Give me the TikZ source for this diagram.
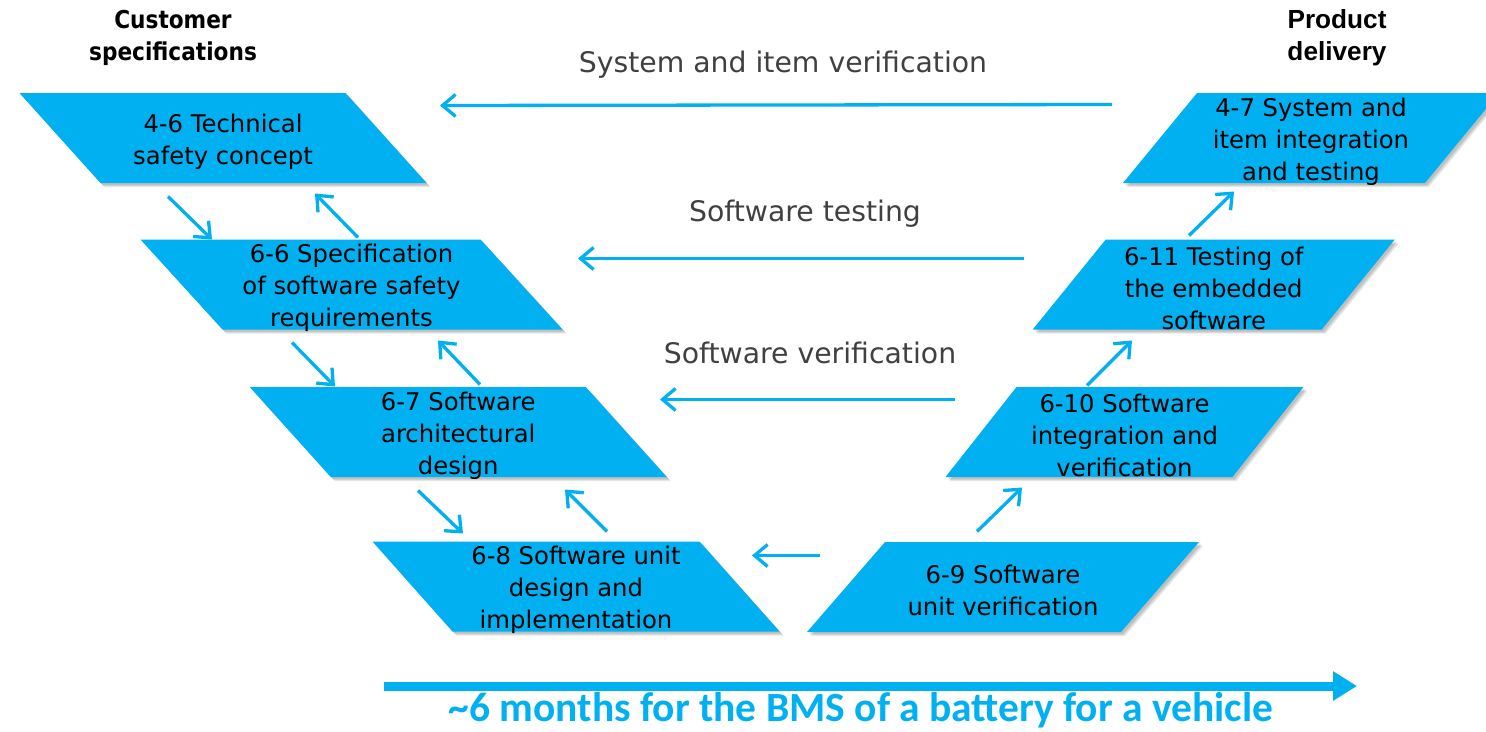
\documentclass[tikz,border=0pt]{standalone}
\usepackage{fontspec}
\setmainfont{DejaVu Sans}
\newfontfamily\headfont[FakeStretch=0.88]{DejaVu Sans}
\newfontfamily\arialfont{Liberation Sans}
\newfontfamily\calfont{Carlito}
\usetikzlibrary{arrows.meta,calc}
\definecolor{vblue}{HTML}{00B0F0}
\definecolor{lblgray}{HTML}{404040}
\tikzset{
  boxtext/.style={align=center, inner sep=0pt, minimum height=90pt, text=black,
    yshift=-3.5pt, font=\fontsize{24.3}{32}\selectfont},
  arr/.style={draw=vblue, line width=3.3pt, -{Straight Barb[length=13pt,width=22pt]}},
  bigarr/.style={draw=vblue, line width=9pt, -{Triangle[length=24pt,width=28pt]}},
  lbl/.style={text=lblgray, inner sep=0pt, font=\fontsize{28.3}{34}\selectfont},
  head/.style={align=center, inner sep=0pt, text=black},
  shadowfill/.style={fill=black, opacity=0.09},
  boxfill/.style={fill=vblue}
}
% name, cx, cy, width, slant, text
\newcommand{\pbox}[6]{%
  \foreach \d in {2,3,4}{%
  \fill[shadowfill] ({#2-#4/2-#5/2+\d},{#3-45+\d}) -- ({#2+#4/2-#5/2+\d},{#3-45+\d})
     -- ({#2+#4/2+#5/2+\d},{#3+45+\d}) -- ({#2-#4/2+#5/2+\d},{#3+45+\d}) -- cycle;}
  \fill[boxfill] ({#2-#4/2-#5/2},{#3-45}) -- ({#2+#4/2-#5/2},{#3-45})
     -- ({#2+#4/2+#5/2},{#3+45}) -- ({#2-#4/2+#5/2},{#3+45}) -- cycle;
  \node[boxtext] (#1) at (#2,#3) {#6};
}
\begin{document}
\begin{tikzpicture}[x=1pt,y=-1pt]
\clip (0,0) rectangle (1486,731);
\fill[white] (0,0) rectangle (1486,731);

% headers
\node[head, font=\headfont\bfseries\fontsize{24.6}{32}\selectfont] (cust) at (173,38) {Customer\\specifications};
\node[head, font=\arialfont\bfseries\fontsize{26.2}{32}\selectfont] (prod) at (1337,38) {Product\\delivery};

% boxes
\pbox{b46}{223}{138}{326}{81}{4-6 Technical\\safety concept}
\pbox{b66}{351.5}{284.5}{340}{82}{6-6 Specification\\of software safety\\requirements}
\pbox{b67}{458.25}{432}{336}{81}{6-7 Software\\architectural\\design}
\pbox{b68}{576}{586.5}{327}{80}{6-8 Software unit\\design and\\implementation}
\pbox{b69}{1003}{587}{314}{-78}{6-9 Software\\unit verification}
\pbox{b610}{1124.5}{432}{287}{-71}{6-10 Software\\integration and\\verification}
\pbox{b611}{1213.75}{284.5}{289}{-73}{6-11 Testing of\\the embedded\\software}
\pbox{b47}{1311}{138}{302}{-74}{4-7 System and\\item integration\\and testing}

% labels
\node[lbl] (l1) at (783,65) {System and item verification};
\node[lbl] (l2) at (805,214) {Software testing};
\node[lbl] (l3) at (810,353) {Software verification};

% horizontal arrows
\draw[arr] ($(b47)+(-199,-37)$) -- ($(b46)+(217,-36)$);
\draw[arr] ($(b611)+(-189.75,-29.5)$) -- ($(b66)+(226.5,-29.5)$);
\draw[arr] ($(b610)+(-169.5,-36)$) -- ($(b67)+(201.75,-36)$);
\draw[arr] ($(b69)+(-183,-35)$) -- ($(b68)+(176,-34.5)$);

% diagonal arrows, left side
\draw[arr] ($(b46)+(-55,55)$) -- ($(b66)+(-139.5,-48.5)$);
\draw[arr] ($(b66)+(6.5,-50.5)$) -- ($(b46)+(92,52)$);
\draw[arr] ($(b66)+(-59.5,54.5)$) -- ($(b67)+(-123.25,-49)$);
\draw[arr] ($(b67)+(21.75,-51)$) -- ($(b66)+(86.5,52.5)$);
\draw[arr] ($(b67)+(-40.25,55)$) -- ($(b68)+(-113,-56.5)$);
\draw[arr] ($(b68)+(31,-58.5)$) -- ($(b67)+(106.75,54)$);

% diagonal arrows, right side
\draw[arr] ($(b69)+(-26,-59)$) -- ($(b610)+(-102.5,52)$);
\draw[arr] ($(b610)+(-37.5,-50)$) -- ($(b611)+(-81.75,52.5)$);
\draw[arr] ($(b611)+(-24.75,-52.5)$) -- ($(b47)+(-77,50)$);

% time arrow
\coordinate (tstart) at (384,686);
\coordinate (tend) at (1357,686);
\draw[bigarr] (tstart) -- (tend);
\node[inner sep=0pt, text=vblue, font=\calfont\bfseries\fontsize{41.5}{42}\selectfont] (note) at (861,710) {\textasciitilde 6 months for the BMS of a battery for a vehicle};
\end{tikzpicture}
\end{document}
